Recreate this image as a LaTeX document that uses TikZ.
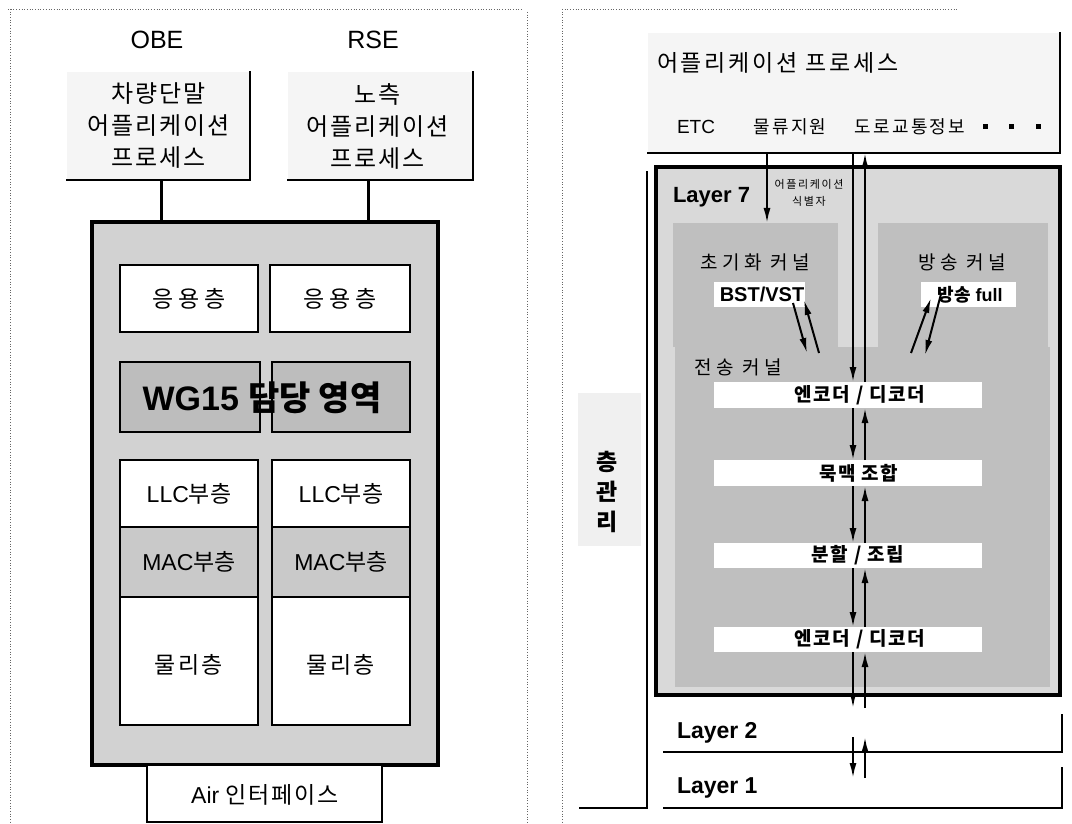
\documentclass[tikz,border=0pt]{standalone}
\usepackage{fontspec}
\setmainfont{Liberation Sans}
\newfontfamily\kr{Noto Sans CJK KR}
\usetikzlibrary{arrows.meta}
\newcommand\myfs[2]{\fontsize{#1}{#2}\selectfont}
\tikzset{
  base/.style={inner sep=0pt, outer sep=0pt},
  frameline/.style={dotted, line width=0.7pt, black!60},
  proc/.style={base, anchor=north west, fill=gray!8},
  edge/.style={line width=2pt, line cap=rect},
  conn/.style={line width=3pt},
  bigbox/.style={base, anchor=north west, draw, line width=3.5pt, fill=gray!35},
  cell/.style={base, anchor=north west, draw, line width=2.2pt, fill=white},
  darkcell/.style={cell, fill=gray!52},
  midcell/.style={cell, fill=gray!42},
  kernel/.style={base, anchor=north west, fill=gray!50},
  strip/.style={base, anchor=north west, fill=white},
  arr/.style={line width=2pt, -{Latex[length=15pt,width=7pt]}},
  lbl/.style={base},
  krS/.style={font=\kr\myfs{19}{22}\addfontfeature{LetterSpace=24}},
  krB/.style={font=\kr\bfseries\myfs{19}{22}\addfontfeature{LetterSpace=8}},
  latB/.style={font=\bfseries\myfs{23}{26}},
}
\begin{document}
\begin{tikzpicture}[x=1pt,y=-1pt]
\useasboundingbox (0,0) rectangle (1072,824);
\fill[white] (0,0) rectangle (1072,824);

% ---------- frames ----------
\draw[frameline] (8,9) -- (522,9);
\draw[frameline] (10,9) -- (10,824);
\draw[frameline] (527,12) -- (527,824);
\draw[frameline] (562,9) -- (958,9);
\draw[frameline] (562,9) -- (562,824);

% ---------- left panel ----------
\node[lbl, font=\myfs{25}{28}] (obe) at (157,40) {OBE};
\node[lbl, font=\myfs{25}{28}] (rse) at (373,40) {RSE};

\node[proc, minimum width=183, minimum height=108] (obeapp) at (67,72) {};
\draw[edge] (obeapp.north east) -- (obeapp.south east) -- (obeapp.south west);
\node[lbl, align=center, font=\kr\myfs{24}{32}\addfontfeature{LetterSpace=8}] (obeapptxt) at (obeapp.center) {차량단말\\어플리케이션\\프로세스};

\node[proc, minimum width=185, minimum height=108] (rseapp) at (288,72) {};
\draw[edge] (rseapp.north east) -- (rseapp.south east) -- (rseapp.south west);
\node[lbl, align=center, font=\kr\myfs{24}{32}\addfontfeature{LetterSpace=8}] (rseapptxt) at ([xshift=-3pt]rseapp.center) {노측\\어플리케이션\\프로세스};

\node[bigbox, minimum width=346, minimum height=543] (bigL) at (92,222) {};
\coordinate (obex) at (161,0);
\coordinate (rsex) at (368,0);
\draw[conn] (obeapp.south -| obex) -- (bigL.north -| obex);
\draw[conn] (rseapp.south -| rsex) -- (bigL.north -| rsex);

\node[cell, minimum width=138, minimum height=67] (appL) at (120,265) {};
\node[cell, minimum width=140, minimum height=67] (appR2) at (270,265) {};
\node[lbl, font=\kr\myfs{23}{30}\addfontfeature{LetterSpace=20}] (appLt) at (appL.center) {응용층};
\node[lbl, font=\kr\myfs{23}{30}\addfontfeature{LetterSpace=20}] (appRt) at (appR2.center) {응용층};

\node[darkcell, minimum width=140, minimum height=70] (wgL) at (120,362) {};
\node[darkcell, minimum width=138, minimum height=70] (wgR) at (272,362) {};
\node[lbl, font=\bfseries\myfs{34}{36}] (wgt) at (262,398) {WG15 {\kr 담당 영역}};

\node[cell, minimum width=138, minimum height=67] (llcL) at (120,460) {};
\node[cell, minimum width=138, minimum height=67] (llcR) at (272,460) {};
\node[lbl, font=\myfs{23}{26}] (llcLt) at (llcL.center) {LLC{\kr 부층}};
\node[lbl, font=\myfs{23}{26}] (llcRt) at (llcR.center) {LLC{\kr 부층}};

\node[midcell, minimum width=138, minimum height=70] (macL) at (120,527) {};
\node[midcell, minimum width=138, minimum height=70] (macR) at (272,527) {};
\node[lbl, font=\myfs{23}{26}] (macLt) at (macL.center) {MAC{\kr 부층}};
\node[lbl, font=\myfs{23}{26}] (macRt) at (macR.center) {MAC{\kr 부층}};

\node[cell, minimum width=138, minimum height=128] (phyL) at (120,597) {};
\node[cell, minimum width=138, minimum height=128] (phyR) at (272,597) {};
\node[lbl, font=\kr\myfs{23}{26}\addfontfeature{LetterSpace=10}] (phyLt) at ([yshift=-4pt]phyL.center) {물리층};
\node[lbl, font=\kr\myfs{23}{26}\addfontfeature{LetterSpace=10}] (phyRt) at ([yshift=-4pt]phyR.center) {물리층};

\node[cell, minimum width=235, minimum height=57] (air) at (147,765) {};
\node[lbl, font=\myfs{23}{26}] (airt) at (265,795) {Air {\kr\addfontfeature{LetterSpace=8}인터페이스}};

% ---------- right panel ----------
% management bracket
\node[base, anchor=north west, fill=gray!12, minimum width=63, minimum height=153] (mgshade) at (578,393) {};
\node[base, anchor=north west, minimum width=67, minimum height=636] (mg) at (580,172) {};
\draw[edge] (mg.north east) -- (mg.south east) -- (mg.south west);
\node[lbl, align=center, font=\kr\bfseries\myfs{23}{30}] (mgt) at (607,492) {층\\관\\리};

% application process
\node[proc, minimum width=412, minimum height=120] (appP) at (648,33) {};
\draw[edge] (appP.north east) -- (appP.south east) -- (appP.south west);
\node[lbl, anchor=west, font=\kr\myfs{23}{26}\addfontfeature{LetterSpace=12}] (appPt) at (657,63) {어플리케이션 프로세스};
\node[lbl, font=\myfs{19}{22}] (etc) at (696,127) {ETC};
\node[lbl, font=\kr\myfs{18}{22}\addfontfeature{LetterSpace=12}] (lgs) at (790,127) {물류지원};
\node[lbl, font=\kr\myfs{18}{22}\addfontfeature{LetterSpace=12}] (rti) at (910,127) {도로교통정보};
\node[base, fill=black, minimum size=5] (dot1) at (985,127) {};
\node[base, fill=black, minimum size=5] (dot2) at (1011,127) {};
\node[base, fill=black, minimum size=5] (dot3) at (1038,127) {};

% Layer 7
\node[base, anchor=north west, draw, line width=3.5pt, fill=gray!30, minimum width=404, minimum height=528] (L7) at (656,167) {};
\node[kernel, minimum width=165, minimum height=124] (k1) at (673,223) {};
\node[kernel, minimum width=170, minimum height=124] (k2) at (878,223) {};
\node[kernel, minimum width=375, minimum height=340] (k3) at (675,347) {};

\node[lbl, anchor=west, font=\bfseries\myfs{22}{24}] (L7t) at (673,197) {Layer 7};
\node[lbl, align=center, font=\kr\myfs{11}{17}\addfontfeature{LetterSpace=15}] (aid) at (809,193) {어플리케이션\\식별자};

\node[lbl, krS] (k1t) at (755,262) {초기화 커널};
\node[lbl, krS] (k2t) at (962,262) {방송 커널};
\node[lbl, krS] (k3t) at (738,367) {전송 커널};

\node[strip, minimum width=91, minimum height=25] (bst) at (714,282) {};
\node[lbl, font=\bfseries\myfs{20}{22}] (bstt) at (762,294.5) {BST/VST};
\node[strip, minimum width=95, minimum height=25] (bfull) at (921,282) {};
\node[lbl, font=\bfseries\myfs{18}{22}] (bfullt) at (970,294.5) {{\kr 방송} full};

\node[strip, minimum width=268, minimum height=26] (s1) at (714,382) {};
\node[strip, minimum width=268, minimum height=26] (s2) at (714,460) {};
\node[strip, minimum width=268, minimum height=25] (s3) at (714,543) {};
\node[strip, minimum width=268, minimum height=25] (s4) at (714,627) {};
\node[lbl, krB] (s1t) at (860,395) {엔코더 / 디코더};
\node[lbl, krB] (s2t) at (859,473) {묵맥 조합};
\node[lbl, krB] (s3t) at (858,555.5) {분할 / 조립};
\node[lbl, krB] (s4t) at (860,639.5) {엔코더 / 디코더};

% Layer 2 / Layer 1
\node[base, anchor=north west, minimum width=398, minimum height=37] (l2) at (664,715) {};
\draw[edge] (l2.north east) -- (l2.south east) -- (l2.south west);
\node[lbl, anchor=west, latB] (l2t) at (677,733) {Layer 2};
\node[base, anchor=north west, minimum width=398, minimum height=40] (l1) at (664,768) {};
\draw[edge] (l1.north east) -- (l1.south east) -- (l1.south west);
\node[lbl, anchor=west, latB] (l1t) at (677,788) {Layer 1};

% arrows
\coordinate (xa) at (767,0);
\coordinate (xd) at (853,0);
\coordinate (xu) at (865,0);
\coordinate (l7out) at (0,708);
\coordinate (l2a) at (0,737);
\coordinate (l1a) at (0,778);

\draw[arr] (appP.south -| xa) -- (k1.north -| xa);

\draw[arr] (appP.south -| xd) -- (s1.north -| xd);
\draw[arr] (s1.north -| xu) -- (appP.south -| xu);
\draw[arr] (s1.south -| xd) -- (s2.north -| xd);
\draw[arr] (s2.north -| xu) -- (s1.south -| xu);
\draw[arr] (s2.south -| xd) -- (s3.north -| xd);
\draw[arr] (s3.north -| xu) -- (s2.south -| xu);
\draw[arr] (s3.south -| xd) -- (s4.north -| xd);
\draw[arr] (s4.north -| xu) -- (s3.south -| xu);
\draw[arr] (s4.south -| xd) -- (l7out -| xd);
\draw[arr] (l7out -| xu) -- (s4.south -| xu);
\draw[arr] (l2a -| xd) -- (l1a -| xd);
\draw[arr] (l1a -| xu) -- (l2a -| xu);

\coordinate (a1s) at (793,303);
\coordinate (a1e) at (807,353);
\coordinate (a2s) at (819,353);
\coordinate (a2e) at (804,300);
\coordinate (a3s) at (911,353);
\coordinate (a3e) at (931,298);
\coordinate (a4s) at (941,294);
\coordinate (a4e) at (925,355);
\draw[arr] (a1s) -- (a1e);
\draw[arr] (a2s) -- (a2e);
\draw[arr] (a3s) -- (a3e);
\draw[arr] (a4s) -- (a4e);
\end{tikzpicture}
\end{document}
